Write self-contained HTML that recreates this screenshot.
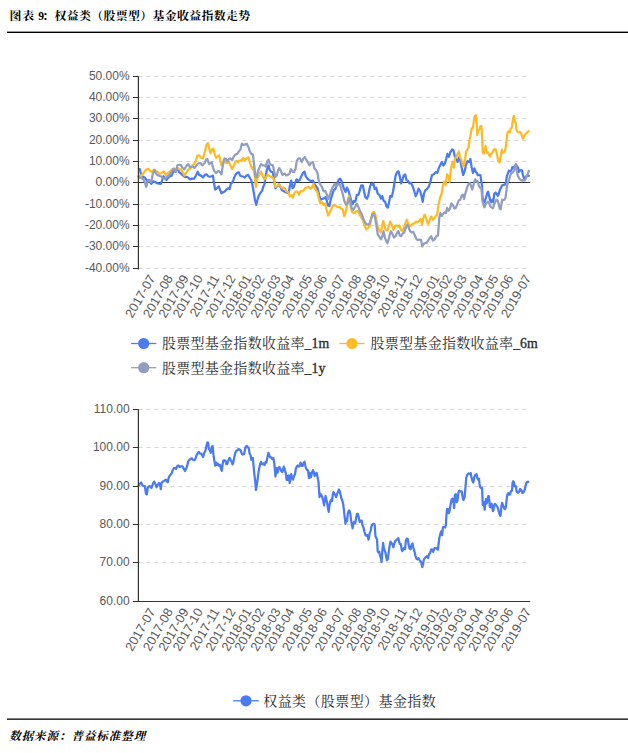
<!DOCTYPE html>
<html><head><meta charset="utf-8"><title>chart</title>
<style>html,body{margin:0;padding:0;background:#fff}svg{display:block;font-family:"Liberation Sans",sans-serif}</style>
</head><body>
<svg width="628" height="753" viewBox="0 0 628 753">
<rect width="628" height="753" fill="#fff"/>
<text x="9.5" y="19.7" font-family="'Liberation Serif','Noto Serif CJK SC',serif" font-weight="bold" font-size="11.9" fill="#000" textLength="24.6" lengthAdjust="spacing">图表</text>
<text x="42.2" y="19.7" font-family="'Liberation Serif','Noto Serif CJK SC',serif" font-weight="bold" font-size="11.9" fill="#000" textLength="208" lengthAdjust="spacing">：权益类（股票型）基金收益指数走势</text>
<text x="38.3" y="20.099999999999998" font-family="Liberation Serif" font-weight="bold" font-size="11.6" fill="#000">9</text>
<rect x="7" y="31.6" width="621" height="1.4" fill="#000"/>
<rect x="7" y="718.5" width="621" height="1.3" fill="#000"/>
<text x="9.2" y="740.3" font-family="'Liberation Serif','Noto Serif CJK SC',serif" font-weight="bold" font-style="italic" font-size="11.5" fill="#000" textLength="136" lengthAdjust="spacing">数据来源：普益标准整理</text>
<line x1="138.4" y1="76.5" x2="527.2" y2="76.5" stroke="#d6d6d6" stroke-width="1" stroke-dasharray="4 4"/>
<line x1="132.9" y1="76.5" x2="138.4" y2="76.5" stroke="#333" stroke-width="1"/>
<text x="129.6" y="79.7" text-anchor="end" font-size="12" fill="#595959">50.00%</text>
<line x1="138.4" y1="97.5" x2="527.2" y2="97.5" stroke="#d6d6d6" stroke-width="1" stroke-dasharray="4 4"/>
<line x1="132.9" y1="97.5" x2="138.4" y2="97.5" stroke="#333" stroke-width="1"/>
<text x="129.6" y="100.7" text-anchor="end" font-size="12" fill="#595959">40.00%</text>
<line x1="138.4" y1="118.5" x2="527.2" y2="118.5" stroke="#d6d6d6" stroke-width="1" stroke-dasharray="4 4"/>
<line x1="132.9" y1="118.5" x2="138.4" y2="118.5" stroke="#333" stroke-width="1"/>
<text x="129.6" y="121.7" text-anchor="end" font-size="12" fill="#595959">30.00%</text>
<line x1="138.4" y1="140.5" x2="527.2" y2="140.5" stroke="#d6d6d6" stroke-width="1" stroke-dasharray="4 4"/>
<line x1="132.9" y1="140.5" x2="138.4" y2="140.5" stroke="#333" stroke-width="1"/>
<text x="129.6" y="143.7" text-anchor="end" font-size="12" fill="#595959">20.00%</text>
<line x1="138.4" y1="161.5" x2="527.2" y2="161.5" stroke="#d6d6d6" stroke-width="1" stroke-dasharray="4 4"/>
<line x1="132.9" y1="161.5" x2="138.4" y2="161.5" stroke="#333" stroke-width="1"/>
<text x="129.6" y="164.7" text-anchor="end" font-size="12" fill="#595959">10.00%</text>
<line x1="132.9" y1="182.5" x2="138.4" y2="182.5" stroke="#333" stroke-width="1"/>
<text x="129.6" y="185.7" text-anchor="end" font-size="12" fill="#595959">0.00%</text>
<line x1="138.4" y1="204.5" x2="527.2" y2="204.5" stroke="#d6d6d6" stroke-width="1" stroke-dasharray="4 4"/>
<line x1="132.9" y1="204.5" x2="138.4" y2="204.5" stroke="#333" stroke-width="1"/>
<text x="129.6" y="207.7" text-anchor="end" font-size="12" fill="#595959">-10.00%</text>
<line x1="138.4" y1="225.5" x2="527.2" y2="225.5" stroke="#d6d6d6" stroke-width="1" stroke-dasharray="4 4"/>
<line x1="132.9" y1="225.5" x2="138.4" y2="225.5" stroke="#333" stroke-width="1"/>
<text x="129.6" y="228.7" text-anchor="end" font-size="12" fill="#595959">-20.00%</text>
<line x1="138.4" y1="246.5" x2="527.2" y2="246.5" stroke="#d6d6d6" stroke-width="1" stroke-dasharray="4 4"/>
<line x1="132.9" y1="246.5" x2="138.4" y2="246.5" stroke="#333" stroke-width="1"/>
<text x="129.6" y="249.7" text-anchor="end" font-size="12" fill="#595959">-30.00%</text>
<line x1="138.4" y1="268.5" x2="527.2" y2="268.5" stroke="#d6d6d6" stroke-width="1" stroke-dasharray="4 4"/>
<line x1="132.9" y1="268.5" x2="138.4" y2="268.5" stroke="#333" stroke-width="1"/>
<text x="129.6" y="271.7" text-anchor="end" font-size="12" fill="#595959">-40.00%</text>
<line x1="138.4" y1="182.5" x2="530.2" y2="182.5" stroke="#333" stroke-width="1.2"/>
<path d="M138.3 169.8 L139.8 169.0 L141.1 174.9 L143.0 176.8 L144.9 177.5 L146.8 180.7 L148.1 180.0 L149.4 180.7 L151.3 183.9 L153.2 181.3 L155.1 181.9 L157.0 183.2 L158.9 183.6 L160.8 183.9 L162.1 180.7 L163.4 176.2 L164.7 177.5 L166.6 180.0 L167.8 178.1 L169.8 176.2 L171.7 175.6 L172.9 172.4 L174.2 169.8 L175.5 171.8 L176.8 168.6 L178.0 169.2 L179.3 172.4 L181.2 173.7 L182.5 174.9 L184.4 176.8 L186.3 176.8 L188.2 177.5 L190.1 179.4 L192.1 178.5 L194.0 178.8 L195.9 175.6 L197.8 171.8 L199.1 174.9 L201.0 175.6 L202.9 177.5 L204.8 174.9 L206.7 174.3 L208.0 176.2 L209.9 176.8 L211.7 176.2 L213.0 175.6 L213.9 182.6 L215.2 189.6 L216.8 188.3 L218.7 186.4 L220.0 189.6 L221.5 193.4 L223.2 192.1 L224.8 191.5 L226.4 189.6 L227.9 188.3 L229.6 189.0 L230.8 183.9 L232.8 181.9 L234.3 177.5 L235.9 174.3 L237.6 172.4 L238.9 172.4 L240.1 175.6 L241.7 176.2 L243.6 176.8 L244.8 177.5 L246.5 175.6 L248.0 174.9 L249.6 177.5 L251.2 180.0 L252.5 185.1 L253.8 192.8 L255.0 200.4 L256.3 204.9 L257.6 199.2 L258.9 195.3 L260.5 192.8 L262.1 190.9 L263.3 186.4 L264.6 183.9 L265.6 176.2 L266.9 169.8 L268.4 165.4 L269.7 169.8 L271.2 171.8 L272.9 172.4 L274.1 180.0 L275.4 188.3 L276.7 186.4 L278.0 185.8 L279.2 184.5 L280.5 187.0 L281.8 190.2 L283.2 190.8 L285.1 192.0 L287.0 192.7 L288.7 193.3 L289.9 185.7 L291.2 180.6 L292.5 188.2 L293.8 186.9 L295.0 183.1 L296.6 179.3 L298.1 181.2 L299.8 179.9 L301.4 176.1 L302.9 172.9 L304.5 171.7 L305.7 176.1 L307.4 178.7 L309.0 179.9 L310.8 181.2 L312.9 180.6 L314.4 183.8 L315.9 186.3 L317.6 188.2 L318.9 193.9 L320.5 199.7 L322.0 199.0 L323.9 198.4 L325.6 197.1 L326.9 201.0 L328.1 205.4 L329.4 206.1 L330.7 199.7 L332.2 194.6 L333.8 190.1 L335.4 188.8 L337.1 184.4 L338.6 179.9 L340.1 178.7 L341.4 180.6 L342.7 185.0 L344.3 189.5 L345.6 192.0 L346.9 187.6 L348.5 190.8 L350.1 196.5 L351.3 201.0 L352.6 204.1 L353.9 201.0 L355.4 201.6 L356.8 194.8 L358.4 194.8 L359.9 190.4 L361.2 185.3 L362.8 185.3 L364.1 191.7 L365.4 197.4 L367.0 198.7 L368.3 195.5 L369.6 188.5 L370.9 184.0 L372.4 184.7 L373.4 183.4 L374.7 189.1 L376.2 187.8 L377.7 193.6 L379.4 194.8 L381.0 198.7 L382.3 196.1 L383.6 200.6 L385.1 201.8 L386.4 206.3 L387.7 207.6 L388.9 203.1 L390.2 196.1 L391.8 196.8 L393.0 191.7 L394.3 184.0 L395.6 175.7 L397.2 171.9 L398.5 171.3 L399.8 176.4 L401.0 183.4 L402.3 180.8 L403.6 175.7 L405.2 174.5 L406.5 180.2 L408.1 180.8 L409.3 183.4 L410.9 182.7 L412.5 185.9 L414.2 191.0 L415.7 196.1 L417.2 192.9 L418.5 188.5 L420.1 191.0 L421.4 195.5 L422.7 201.8 L424.0 193.6 L425.2 190.4 L426.9 189.1 L429.1 186.0 L430.6 180.9 L432.0 175.0 L433.9 174.3 L435.7 172.1 L437.4 172.8 L438.9 167.7 L440.4 164.8 L441.8 161.9 L443.3 165.6 L444.7 164.1 L446.2 159.0 L447.4 153.9 L448.8 156.8 L450.3 152.4 L452.0 149.5 L453.5 150.2 L454.7 156.1 L456.1 159.0 L457.6 161.9 L459.0 157.5 L460.5 161.2 L461.7 167.7 L463.1 175.0 L464.6 171.4 L466.0 164.8 L467.5 161.2 L469.0 161.9 L470.4 159.0 L471.6 167.0 L472.9 172.8 L474.4 168.5 L475.8 172.1 L476.9 172.9 L477.8 175.3 L479.2 174.8 L480.5 175.3 L481.2 180.6 L482.1 186.8 L482.4 194.9 L483.1 201.6 L484.5 202.1 L485.9 197.8 L487.2 193.0 L488.1 191.6 L489.1 195.9 L490.1 200.2 L491.2 202.1 L492.3 199.7 L493.3 202.1 L494.2 193.9 L495.5 192.5 L496.7 193.9 L497.9 195.9 L499.0 193.0 L500.0 189.7 L501.2 187.3 L502.2 185.3 L503.6 184.9 L505.1 184.4 L506.0 181.5 L507.0 175.8 L507.9 173.4 L508.9 170.5 L510.1 171.5 L511.3 170.5 L512.4 167.2 L513.6 167.7 L514.9 165.8 L516.0 164.3 L517.2 166.7 L518.1 167.7 L518.9 172.0 L519.9 170.5 L521.0 170.1 L522.0 170.5 L522.9 174.8 L523.9 178.2 L525.1 177.7 L526.4 176.3 L527.5 175.3 L528.6 175.8 L529.7 176.3" fill="none" stroke="#4a7bf0" stroke-width="2.25" stroke-linejoin="round" stroke-linecap="butt"/>
<path d="M138.3 175.6 L140.5 175.6 L142.4 174.9 L144.3 171.8 L146.2 169.8 L148.1 168.6 L150.0 170.5 L151.9 172.4 L153.8 169.8 L155.8 171.1 L157.7 172.1 L159.6 173.7 L161.5 173.0 L163.4 171.4 L164.7 172.4 L165.9 174.9 L167.8 173.0 L169.8 171.8 L171.7 169.8 L173.6 168.6 L175.5 169.2 L177.4 167.9 L179.3 169.2 L181.2 169.8 L182.5 171.8 L184.4 175.6 L186.3 172.4 L188.2 169.8 L190.1 168.6 L192.1 165.4 L194.0 164.1 L195.9 160.9 L197.2 155.8 L199.1 155.2 L201.0 157.8 L202.9 158.4 L204.8 152.0 L206.7 144.4 L208.0 143.1 L209.2 148.2 L210.5 153.3 L212.1 149.5 L213.4 148.8 L214.7 154.6 L216.2 157.8 L217.7 156.5 L219.0 155.2 L220.3 160.3 L221.5 165.4 L222.8 162.2 L224.1 160.3 L225.8 162.8 L227.4 162.8 L228.9 161.6 L230.5 165.4 L232.1 169.2 L233.8 165.4 L235.3 161.6 L236.6 160.9 L238.1 162.2 L239.8 160.3 L241.4 160.9 L243.2 157.8 L244.8 160.3 L246.5 158.4 L248.3 157.1 L249.6 161.6 L250.8 165.4 L252.1 168.6 L253.4 167.3 L254.7 176.2 L255.9 187.0 L257.2 178.8 L258.5 176.2 L259.8 173.7 L261.0 171.8 L262.7 175.6 L264.3 179.4 L265.9 177.5 L267.4 174.9 L269.1 175.6 L271.0 176.8 L272.5 177.5 L274.1 179.4 L275.4 187.0 L277.1 185.8 L278.9 184.5 L280.5 186.4 L282.2 188.3 L283.2 187.6 L284.8 188.2 L286.4 191.4 L288.3 192.0 L289.9 196.5 L291.5 195.2 L292.7 197.8 L294.3 193.3 L295.9 191.4 L297.6 192.0 L299.1 194.6 L300.6 190.8 L302.3 191.4 L303.9 190.1 L305.5 187.6 L307.0 187.6 L308.7 186.9 L310.3 188.8 L311.9 187.6 L313.4 183.8 L314.6 188.2 L315.9 190.1 L317.6 192.7 L318.9 199.0 L320.5 203.5 L322.0 202.2 L323.6 204.8 L325.2 203.5 L326.5 209.2 L328.1 215.6 L329.7 212.4 L331.2 209.2 L332.9 206.1 L334.5 204.8 L336.1 206.1 L338.0 207.3 L339.6 206.7 L341.1 208.6 L342.7 209.2 L344.3 216.2 L345.6 212.4 L346.9 206.1 L347.8 199.7 L349.0 195.9 L350.3 204.8 L352.0 211.8 L353.6 213.1 L355.2 212.4 L356.8 210.8 L358.4 212.0 L359.9 215.2 L361.6 217.8 L363.2 221.0 L364.7 226.1 L366.3 229.2 L367.9 228.0 L369.6 226.7 L371.1 218.4 L372.6 212.7 L373.9 212.0 L375.2 213.9 L376.5 221.0 L377.7 226.7 L379.0 229.9 L380.7 232.4 L381.9 227.3 L383.2 221.0 L384.5 226.1 L385.8 229.9 L387.4 230.5 L388.9 226.7 L390.2 221.6 L391.8 224.8 L393.4 229.9 L395.1 226.1 L396.6 225.4 L398.1 226.7 L399.4 225.4 L401.0 229.9 L402.3 231.2 L404.0 228.0 L405.5 222.9 L406.8 219.7 L408.1 223.5 L409.6 226.1 L411.2 225.4 L412.9 223.5 L414.4 223.5 L415.9 221.6 L417.6 222.2 L419.3 221.0 L420.8 219.0 L422.1 224.8 L423.3 217.8 L424.6 214.6 L426.1 218.4 L427.8 223.5 L428.4 223.9 L429.8 219.6 L431.3 216.6 L432.8 219.6 L434.2 218.8 L435.7 215.9 L437.1 214.4 L438.6 204.2 L440.1 197.7 L441.5 194.0 L442.7 186.7 L444.1 181.6 L445.6 185.3 L447.1 174.3 L448.5 176.5 L449.6 181.6 L451.0 168.5 L452.5 161.9 L453.9 167.7 L454.9 159.0 L456.6 156.0 L457.8 153.4 L458.8 151.5 L460.1 157.2 L461.4 159.8 L462.7 164.9 L463.9 166.2 L465.2 158.5 L466.1 151.5 L467.4 149.6 L468.6 147.0 L469.5 140.0 L470.6 135.6 L471.6 128.6 L472.9 127.9 L473.8 121.6 L474.6 116.5 L475.9 115.2 L476.7 124.1 L477.2 134.9 L478.2 130.5 L479.2 129.8 L480.1 126.7 L481.4 126.0 L482.0 134.3 L482.7 152.8 L483.9 153.4 L484.8 148.9 L485.6 145.8 L486.5 152.8 L487.8 152.1 L488.6 154.0 L489.9 156.6 L490.9 154.0 L492.2 152.8 L493.5 150.2 L494.8 148.9 L495.8 149.6 L497.1 154.7 L498.3 161.1 L499.6 162.3 L500.9 155.3 L501.8 149.6 L503.0 152.8 L504.3 152.1 L505.6 148.3 L506.5 140.7 L507.5 132.4 L508.5 131.1 L509.8 132.4 L510.7 128.6 L512.0 127.3 L512.9 119.0 L513.9 115.8 L514.9 121.6 L515.8 122.8 L516.4 129.8 L517.4 131.8 L518.7 132.4 L520.0 131.8 L521.3 133.7 L522.1 136.8 L523.0 138.8 L524.1 136.2 L525.3 134.3 L526.6 133.0 L527.9 131.8 L529.2 130.5" fill="none" stroke="#fcbb26" stroke-width="2.25" stroke-linejoin="round" stroke-linecap="butt"/>
<path d="M137.9 175.6 L139.2 177.5 L141.1 178.1 L143.0 178.8 L144.9 182.6 L146.2 187.0 L147.5 181.9 L149.4 180.0 L151.3 181.9 L152.6 174.9 L154.5 169.8 L155.8 173.0 L157.0 174.9 L158.9 175.6 L160.8 176.2 L162.8 178.1 L164.7 178.8 L166.6 177.5 L168.5 175.6 L170.4 173.7 L172.3 170.5 L173.6 168.6 L174.8 170.5 L176.1 171.8 L177.4 165.4 L179.3 164.8 L181.2 165.4 L182.5 167.9 L184.4 169.2 L186.3 166.0 L188.2 164.1 L189.5 166.7 L191.4 167.3 L192.7 166.7 L194.6 167.9 L196.5 165.4 L198.4 163.5 L200.3 162.8 L202.2 165.4 L204.2 163.5 L206.1 159.7 L207.3 159.0 L209.2 164.1 L211.7 162.2 L213.0 167.3 L214.3 171.1 L215.9 173.0 L217.5 171.8 L219.0 171.1 L220.3 172.4 L221.5 174.3 L222.8 165.4 L224.5 158.4 L226.1 159.0 L227.4 161.6 L228.9 159.0 L230.5 158.4 L232.1 160.3 L233.8 156.5 L235.3 154.6 L237.2 153.9 L238.9 151.4 L240.4 149.5 L241.9 143.7 L243.6 145.0 L245.2 144.4 L246.8 143.7 L248.3 146.9 L249.9 151.4 L251.2 153.9 L252.9 154.6 L254.2 165.4 L255.4 176.2 L256.7 177.5 L258.2 170.5 L259.8 166.7 L261.0 164.1 L262.7 165.4 L264.3 165.4 L265.9 166.7 L267.1 161.6 L268.4 159.7 L269.7 163.5 L271.2 164.8 L272.9 165.4 L274.1 171.1 L275.4 176.8 L276.7 175.6 L278.0 170.5 L279.2 167.9 L280.9 171.1 L282.4 174.9 L283.2 174.2 L284.8 173.6 L286.4 175.5 L287.9 174.8 L289.6 173.6 L290.8 169.1 L292.5 171.7 L294.0 172.3 L295.5 169.1 L296.8 160.8 L298.5 158.3 L300.1 158.3 L301.7 162.1 L303.2 158.9 L304.8 157.0 L306.5 160.2 L308.0 162.7 L309.6 165.3 L311.2 162.7 L312.9 162.1 L314.4 168.5 L315.9 169.8 L317.6 173.6 L318.9 181.8 L320.5 185.0 L322.0 186.9 L323.6 191.4 L325.2 190.8 L326.9 194.6 L328.4 199.0 L329.9 194.6 L331.6 189.5 L333.2 186.3 L334.8 183.8 L336.3 186.3 L338.0 184.4 L339.6 183.8 L341.1 188.2 L342.7 193.9 L344.3 201.0 L346.0 204.8 L347.5 203.5 L349.0 198.4 L350.3 201.0 L351.6 208.0 L353.2 209.9 L354.9 207.3 L356.8 203.8 L358.4 206.9 L359.9 210.8 L361.6 213.9 L363.2 218.4 L364.7 221.6 L366.3 224.1 L367.9 224.8 L369.6 223.5 L371.1 219.0 L372.4 214.6 L373.9 213.9 L375.2 218.4 L376.5 226.1 L377.7 234.3 L379.4 236.9 L381.0 239.4 L382.3 236.2 L383.6 231.2 L384.9 237.5 L386.1 240.7 L387.4 243.2 L388.7 239.4 L390.0 233.7 L390.9 231.2 L392.5 234.3 L394.0 237.5 L395.6 236.2 L397.2 232.4 L398.5 231.2 L399.8 235.6 L401.0 236.2 L402.7 233.7 L404.2 232.4 L405.8 228.0 L407.4 224.8 L408.7 227.3 L410.0 231.2 L411.6 232.4 L413.1 231.8 L414.7 235.0 L416.3 238.8 L418.0 240.1 L419.5 239.4 L421.0 240.1 L422.3 246.4 L423.6 243.9 L425.2 243.2 L426.9 242.6 L428.4 240.0 L429.8 237.8 L431.3 236.3 L432.8 240.7 L434.5 239.3 L436.4 236.3 L437.9 235.6 L438.6 227.6 L439.3 217.4 L440.4 213.0 L441.8 215.9 L443.3 213.7 L444.7 212.3 L445.9 213.0 L447.1 207.9 L448.5 210.8 L450.0 208.6 L451.4 203.5 L452.9 205.0 L454.4 208.6 L455.8 207.9 L457.3 204.2 L458.7 200.6 L460.2 199.8 L461.7 195.5 L463.1 194.7 L464.1 199.1 L465.6 192.6 L467.1 187.4 L468.5 183.8 L470.0 183.1 L471.0 186.0 L472.2 189.6 L473.6 184.5 L475.1 179.4 L476.4 181.5 L477.6 181.1 L478.8 185.8 L479.9 187.7 L481.2 187.3 L481.8 193.0 L482.4 200.6 L483.4 204.5 L484.5 207.3 L485.7 204.0 L486.9 202.6 L488.1 201.6 L489.3 203.5 L490.4 206.4 L491.7 207.3 L492.9 208.3 L494.1 204.5 L495.2 202.1 L496.4 199.7 L497.7 200.6 L498.6 203.5 L499.6 208.3 L500.6 209.2 L501.5 203.5 L502.2 199.7 L503.1 200.2 L504.4 199.7 L505.5 197.8 L506.3 192.0 L507.0 186.3 L507.9 182.5 L508.9 180.6 L509.8 177.2 L510.8 173.9 L511.7 172.9 L513.0 172.4 L514.1 170.5 L515.1 166.7 L516.0 165.3 L516.8 171.0 L517.8 175.8 L518.9 177.7 L519.9 179.6 L521.0 180.1 L522.2 180.6 L523.5 180.1 L524.6 180.6 L525.8 178.7 L526.7 176.3 L527.7 173.9 L528.6 171.5 L529.4 170.2" fill="none" stroke="#919ec1" stroke-width="2.25" stroke-linejoin="round" stroke-linecap="butt"/>
<line x1="138.4" y1="76.3" x2="138.4" y2="269.5" stroke="#333" stroke-width="1.2"/>
<text transform="translate(155.8 278.0) rotate(-60)" text-anchor="end" font-size="12.8" fill="#595959">2017-07</text>
<text transform="translate(173.4 278.0) rotate(-60)" text-anchor="end" font-size="12.8" fill="#595959">2017-08</text>
<text transform="translate(189.0 278.0) rotate(-60)" text-anchor="end" font-size="12.8" fill="#595959">2017-09</text>
<text transform="translate(203.2 278.0) rotate(-60)" text-anchor="end" font-size="12.8" fill="#595959">2017-10</text>
<text transform="translate(219.8 278.0) rotate(-60)" text-anchor="end" font-size="12.8" fill="#595959">2017-11</text>
<text transform="translate(236.0 278.0) rotate(-60)" text-anchor="end" font-size="12.8" fill="#595959">2017-12</text>
<text transform="translate(252.1 278.0) rotate(-60)" text-anchor="end" font-size="12.8" fill="#595959">2018-01</text>
<text transform="translate(265.0 278.0) rotate(-60)" text-anchor="end" font-size="12.8" fill="#595959">2018-02</text>
<text transform="translate(281.0 278.0) rotate(-60)" text-anchor="end" font-size="12.8" fill="#595959">2018-03</text>
<text transform="translate(294.9 278.0) rotate(-60)" text-anchor="end" font-size="12.8" fill="#595959">2018-04</text>
<text transform="translate(312.5 278.0) rotate(-60)" text-anchor="end" font-size="12.8" fill="#595959">2018-05</text>
<text transform="translate(327.5 278.0) rotate(-60)" text-anchor="end" font-size="12.8" fill="#595959">2018-06</text>
<text transform="translate(345.3 278.0) rotate(-60)" text-anchor="end" font-size="12.8" fill="#595959">2018-07</text>
<text transform="translate(361.8 278.0) rotate(-60)" text-anchor="end" font-size="12.8" fill="#595959">2018-08</text>
<text transform="translate(376.7 278.0) rotate(-60)" text-anchor="end" font-size="12.8" fill="#595959">2018-09</text>
<text transform="translate(390.2 278.0) rotate(-60)" text-anchor="end" font-size="12.8" fill="#595959">2018-10</text>
<text transform="translate(407.4 278.0) rotate(-60)" text-anchor="end" font-size="12.8" fill="#595959">2018-11</text>
<text transform="translate(422.9 278.0) rotate(-60)" text-anchor="end" font-size="12.8" fill="#595959">2018-12</text>
<text transform="translate(440.1 278.0) rotate(-60)" text-anchor="end" font-size="12.8" fill="#595959">2019-01</text>
<text transform="translate(452.5 278.0) rotate(-60)" text-anchor="end" font-size="12.8" fill="#595959">2019-02</text>
<text transform="translate(467.4 278.0) rotate(-60)" text-anchor="end" font-size="12.8" fill="#595959">2019-03</text>
<text transform="translate(483.7 278.0) rotate(-60)" text-anchor="end" font-size="12.8" fill="#595959">2019-04</text>
<text transform="translate(498.8 278.0) rotate(-60)" text-anchor="end" font-size="12.8" fill="#595959">2019-05</text>
<text transform="translate(513.8 278.0) rotate(-60)" text-anchor="end" font-size="12.8" fill="#595959">2019-06</text>
<text transform="translate(531.6 278.0) rotate(-60)" text-anchor="end" font-size="12.8" fill="#595959">2019-07</text>
<line x1="138.4" y1="409.5" x2="527.2" y2="409.5" stroke="#d6d6d6" stroke-width="1" stroke-dasharray="4 4"/>
<line x1="132.9" y1="409.5" x2="138.4" y2="409.5" stroke="#333" stroke-width="1"/>
<text x="129.6" y="412.7" text-anchor="end" font-size="12" fill="#595959">110.00</text>
<line x1="138.4" y1="447.5" x2="527.2" y2="447.5" stroke="#d6d6d6" stroke-width="1" stroke-dasharray="4 4"/>
<line x1="132.9" y1="447.5" x2="138.4" y2="447.5" stroke="#333" stroke-width="1"/>
<text x="129.6" y="450.7" text-anchor="end" font-size="12" fill="#595959">100.00</text>
<line x1="138.4" y1="486.5" x2="527.2" y2="486.5" stroke="#d6d6d6" stroke-width="1" stroke-dasharray="4 4"/>
<line x1="132.9" y1="486.5" x2="138.4" y2="486.5" stroke="#333" stroke-width="1"/>
<text x="129.6" y="489.7" text-anchor="end" font-size="12" fill="#595959">90.00</text>
<line x1="138.4" y1="524.5" x2="527.2" y2="524.5" stroke="#d6d6d6" stroke-width="1" stroke-dasharray="4 4"/>
<line x1="132.9" y1="524.5" x2="138.4" y2="524.5" stroke="#333" stroke-width="1"/>
<text x="129.6" y="527.7" text-anchor="end" font-size="12" fill="#595959">80.00</text>
<line x1="138.4" y1="562.5" x2="527.2" y2="562.5" stroke="#d6d6d6" stroke-width="1" stroke-dasharray="4 4"/>
<line x1="132.9" y1="562.5" x2="138.4" y2="562.5" stroke="#333" stroke-width="1"/>
<text x="129.6" y="565.7" text-anchor="end" font-size="12" fill="#595959">70.00</text>
<line x1="132.9" y1="601.5" x2="138.4" y2="601.5" stroke="#333" stroke-width="1"/>
<text x="129.6" y="604.7" text-anchor="end" font-size="12" fill="#595959">60.00</text>
<path d="M138.3 486.1 L139.6 484.1 L141.1 482.5 L142.4 485.4 L143.6 486.1 L144.9 486.1 L145.9 493.7 L146.8 494.3 L147.7 488.0 L149.4 486.1 L150.7 486.7 L151.5 488.0 L152.8 484.1 L154.1 481.6 L155.4 484.1 L156.6 487.3 L157.9 484.8 L158.9 482.9 L159.9 484.1 L160.8 489.2 L161.5 482.9 L162.8 481.6 L164.3 480.7 L165.9 479.7 L167.2 481.6 L167.8 482.2 L168.9 477.1 L170.1 475.2 L171.4 473.9 L172.7 470.1 L174.0 468.0 L175.2 468.2 L176.1 468.9 L177.0 466.3 L178.3 465.4 L179.6 466.9 L180.8 466.3 L182.5 466.3 L183.8 468.9 L185.0 471.0 L186.3 468.2 L187.2 465.7 L188.2 461.2 L189.5 459.9 L190.8 458.7 L191.8 458.3 L193.1 459.9 L194.3 460.3 L195.2 459.3 L196.5 455.5 L197.8 452.9 L198.7 451.9 L199.9 453.6 L201.2 453.6 L202.2 455.5 L203.1 457.0 L204.2 452.9 L205.4 451.0 L206.3 446.6 L207.3 442.5 L208.1 442.7 L208.9 449.1 L209.9 450.4 L210.7 452.9 L211.7 447.2 L212.6 445.9 L213.4 454.2 L214.3 460.6 L215.2 465.7 L216.2 462.5 L217.2 465.0 L218.1 463.8 L219.0 465.7 L220.0 465.0 L221.0 468.9 L221.8 470.8 L222.6 464.4 L223.3 460.6 L224.5 460.3 L225.4 460.6 L226.4 464.1 L227.4 463.8 L228.3 460.6 L229.6 457.8 L230.5 459.9 L231.5 461.2 L232.5 464.4 L233.4 461.9 L234.3 457.4 L235.3 452.9 L236.3 450.6 L237.6 450.4 L238.6 448.9 L239.8 449.8 L240.7 450.4 L241.7 453.6 L242.9 454.5 L244.0 454.2 L244.8 450.4 L245.8 446.6 L246.8 445.9 L247.8 447.2 L248.7 447.8 L249.6 453.6 L250.6 455.5 L251.3 459.9 L252.1 458.7 L252.9 458.0 L253.6 466.3 L254.4 474.6 L255.2 481.0 L255.9 489.9 L256.7 486.1 L257.5 480.3 L258.2 474.6 L259.2 468.2 L260.1 464.4 L261.0 461.9 L261.8 463.8 L262.7 464.4 L263.6 463.4 L264.6 465.0 L265.6 461.9 L266.5 462.5 L267.4 457.4 L268.4 452.9 L269.4 455.5 L270.3 457.4 L271.2 457.4 L272.2 459.0 L273.3 458.0 L274.1 461.9 L274.8 468.2 L275.4 476.5 L276.1 472.0 L276.8 468.2 L277.6 472.7 L278.4 468.2 L279.4 466.9 L280.4 468.9 L281.4 471.4 L282.4 472.0 L283.8 466.6 L284.8 469.8 L285.9 473.6 L286.6 479.9 L287.4 476.1 L288.1 479.9 L288.9 475.5 L289.7 483.1 L290.4 479.9 L291.2 474.2 L292.1 477.4 L293.0 479.6 L294.0 476.1 L295.0 474.2 L295.9 468.5 L296.8 466.6 L297.8 465.5 L298.9 466.6 L299.8 465.3 L300.6 462.7 L301.7 465.9 L302.7 465.9 L303.6 462.7 L304.5 461.7 L305.2 465.3 L306.1 468.5 L307.0 469.8 L308.0 470.4 L309.0 478.0 L309.9 472.9 L310.8 477.4 L311.9 472.9 L312.9 470.1 L313.8 471.7 L314.6 476.1 L315.7 473.6 L316.7 472.9 L317.6 477.4 L318.5 481.9 L319.0 489.5 L319.5 497.1 L320.5 493.9 L321.4 495.2 L322.3 497.1 L323.3 501.0 L324.1 505.4 L324.8 500.3 L325.6 495.9 L326.4 499.7 L327.1 502.2 L327.9 508.0 L328.7 511.8 L329.4 506.1 L330.3 501.6 L331.2 499.7 L332.0 501.0 L332.7 495.2 L333.5 492.0 L334.5 493.9 L335.4 495.2 L336.1 497.1 L337.1 493.9 L338.0 492.0 L338.9 489.5 L339.6 490.8 L340.5 494.6 L341.4 498.4 L342.4 501.0 L343.2 504.1 L343.9 509.9 L344.7 517.5 L345.5 523.9 L346.2 518.8 L347.0 521.3 L347.8 513.7 L348.5 511.1 L349.4 510.5 L350.3 513.7 L351.1 520.1 L352.0 525.2 L352.6 528.3 L353.4 523.9 L354.1 522.0 L355.2 523.2 L356.8 514.2 L357.7 513.6 L358.6 516.8 L359.6 521.9 L360.7 520.6 L361.7 520.6 L362.4 525.0 L363.5 527.6 L364.5 532.0 L365.5 535.2 L366.5 535.9 L367.5 535.2 L368.6 539.7 L369.6 533.3 L370.6 530.8 L371.6 525.7 L372.6 524.1 L373.7 523.8 L374.7 524.4 L375.4 535.9 L376.2 537.8 L377.0 539.0 L377.7 551.1 L378.5 552.4 L379.3 551.8 L380.0 555.6 L380.8 557.5 L381.6 562.0 L382.3 551.1 L383.1 542.9 L383.9 548.0 L384.6 550.5 L385.4 552.4 L386.1 556.2 L386.9 560.1 L387.7 559.4 L388.7 552.4 L389.6 546.0 L390.5 541.6 L391.5 542.9 L392.5 544.8 L393.4 547.3 L394.3 543.5 L395.3 541.0 L396.3 540.3 L397.4 539.0 L398.4 538.1 L399.1 541.6 L399.9 544.1 L400.9 544.1 L401.7 549.9 L402.4 551.1 L403.2 549.2 L404.2 548.0 L405.0 549.2 L405.8 541.0 L406.8 538.7 L407.8 539.0 L408.6 544.8 L409.6 548.6 L410.6 549.2 L411.6 544.8 L412.5 543.5 L413.4 548.0 L414.4 551.1 L415.4 555.6 L416.5 558.8 L417.5 559.4 L418.5 558.1 L419.5 560.1 L420.5 561.3 L421.4 563.2 L422.3 567.1 L423.1 563.9 L423.9 559.4 L424.9 558.1 L425.9 556.9 L426.9 556.2 L427.8 557.5 L428.1 558.1 L429.1 554.0 L430.1 553.3 L431.0 549.7 L432.0 549.4 L433.1 551.9 L433.9 549.7 L434.9 547.9 L436.0 548.2 L436.9 548.9 L437.9 549.7 L438.6 543.8 L439.3 538.0 L440.4 533.6 L441.2 531.4 L442.1 535.1 L443.0 527.0 L444.1 527.0 L445.2 527.5 L445.9 524.9 L446.5 514.6 L447.1 508.8 L448.1 509.5 L448.8 513.2 L449.7 510.3 L450.6 504.4 L451.7 499.3 L452.6 498.6 L453.5 502.2 L454.1 508.1 L454.9 494.9 L455.8 494.2 L456.7 502.2 L457.6 500.0 L458.4 492.7 L459.3 490.6 L460.5 491.3 L461.7 491.3 L462.5 496.4 L463.4 500.0 L464.6 497.1 L465.5 486.9 L466.3 477.4 L467.5 474.5 L468.5 473.5 L469.6 474.1 L470.7 473.0 L471.6 478.1 L472.5 481.1 L473.3 482.5 L474.2 477.4 L475.1 475.2 L476.7 474.3 L477.3 478.1 L478.0 479.6 L479.0 478.6 L479.5 483.9 L480.2 487.2 L481.2 488.2 L482.1 487.7 L482.4 496.3 L482.8 504.9 L483.6 502.0 L484.1 505.9 L484.7 509.7 L485.3 503.9 L485.9 499.2 L486.6 503.5 L487.4 501.1 L488.1 496.3 L488.8 496.1 L489.3 500.1 L489.8 506.8 L490.4 503.5 L491.0 507.3 L491.7 503.9 L492.3 507.8 L492.9 511.1 L493.6 509.7 L494.1 505.9 L494.8 503.9 L495.6 504.4 L496.4 505.7 L497.4 506.8 L498.4 509.7 L499.0 512.5 L499.8 514.9 L500.4 515.9 L500.9 512.1 L501.5 505.9 L502.1 502.8 L502.9 504.9 L503.6 506.8 L504.4 508.7 L505.1 509.2 L505.9 506.8 L506.5 501.1 L507.1 495.8 L507.8 493.6 L508.6 493.2 L509.4 494.6 L510.1 494.4 L510.8 491.5 L511.4 490.8 L512.0 490.6 L512.6 482.4 L513.2 481.2 L513.9 482.4 L514.5 486.3 L515.3 485.8 L516.0 486.3 L516.6 491.5 L517.5 492.5 L518.4 492.5 L519.4 491.1 L520.0 489.1 L521.0 489.6 L521.8 491.1 L522.5 493.2 L523.3 492.5 L524.1 491.1 L524.8 489.6 L525.6 485.8 L526.4 482.9 L527.3 481.8 L528.3 481.8 L529.2 482.0" fill="none" stroke="#4a7bf0" stroke-width="2.25" stroke-linejoin="round" stroke-linecap="butt"/>
<line x1="137.8" y1="601.5" x2="530.2" y2="601.5" stroke="#333" stroke-width="1.2"/>
<line x1="138.4" y1="409.3" x2="138.4" y2="602.1" stroke="#333" stroke-width="1.2"/>
<text transform="translate(155.8 611.3) rotate(-60)" text-anchor="end" font-size="12.8" fill="#595959">2017-07</text>
<text transform="translate(173.4 611.3) rotate(-60)" text-anchor="end" font-size="12.8" fill="#595959">2017-08</text>
<text transform="translate(189.0 611.3) rotate(-60)" text-anchor="end" font-size="12.8" fill="#595959">2017-09</text>
<text transform="translate(203.2 611.3) rotate(-60)" text-anchor="end" font-size="12.8" fill="#595959">2017-10</text>
<text transform="translate(219.8 611.3) rotate(-60)" text-anchor="end" font-size="12.8" fill="#595959">2017-11</text>
<text transform="translate(236.0 611.3) rotate(-60)" text-anchor="end" font-size="12.8" fill="#595959">2017-12</text>
<text transform="translate(252.1 611.3) rotate(-60)" text-anchor="end" font-size="12.8" fill="#595959">2018-01</text>
<text transform="translate(265.0 611.3) rotate(-60)" text-anchor="end" font-size="12.8" fill="#595959">2018-02</text>
<text transform="translate(281.0 611.3) rotate(-60)" text-anchor="end" font-size="12.8" fill="#595959">2018-03</text>
<text transform="translate(294.9 611.3) rotate(-60)" text-anchor="end" font-size="12.8" fill="#595959">2018-04</text>
<text transform="translate(312.5 611.3) rotate(-60)" text-anchor="end" font-size="12.8" fill="#595959">2018-05</text>
<text transform="translate(327.5 611.3) rotate(-60)" text-anchor="end" font-size="12.8" fill="#595959">2018-06</text>
<text transform="translate(345.3 611.3) rotate(-60)" text-anchor="end" font-size="12.8" fill="#595959">2018-07</text>
<text transform="translate(361.8 611.3) rotate(-60)" text-anchor="end" font-size="12.8" fill="#595959">2018-08</text>
<text transform="translate(376.7 611.3) rotate(-60)" text-anchor="end" font-size="12.8" fill="#595959">2018-09</text>
<text transform="translate(390.2 611.3) rotate(-60)" text-anchor="end" font-size="12.8" fill="#595959">2018-10</text>
<text transform="translate(407.4 611.3) rotate(-60)" text-anchor="end" font-size="12.8" fill="#595959">2018-11</text>
<text transform="translate(422.9 611.3) rotate(-60)" text-anchor="end" font-size="12.8" fill="#595959">2018-12</text>
<text transform="translate(440.1 611.3) rotate(-60)" text-anchor="end" font-size="12.8" fill="#595959">2019-01</text>
<text transform="translate(452.5 611.3) rotate(-60)" text-anchor="end" font-size="12.8" fill="#595959">2019-02</text>
<text transform="translate(467.4 611.3) rotate(-60)" text-anchor="end" font-size="12.8" fill="#595959">2019-03</text>
<text transform="translate(483.7 611.3) rotate(-60)" text-anchor="end" font-size="12.8" fill="#595959">2019-04</text>
<text transform="translate(498.8 611.3) rotate(-60)" text-anchor="end" font-size="12.8" fill="#595959">2019-05</text>
<text transform="translate(513.8 611.3) rotate(-60)" text-anchor="end" font-size="12.8" fill="#595959">2019-06</text>
<text transform="translate(531.6 611.3) rotate(-60)" text-anchor="end" font-size="12.8" fill="#595959">2019-07</text>
<line x1="131.1" y1="343.5" x2="156.29999999999998" y2="343.5" stroke="#4a7bf0" stroke-width="1.3"/>
<circle cx="143.7" cy="343.5" r="5.6" fill="#4a7bf0"/>
<text x="161.9" y="348.4" font-family="'Liberation Serif','Noto Serif CJK SC',serif" font-size="14" fill="#2a2a2a" textLength="142.6" lengthAdjust="spacing">股票型基金指数收益率</text>
<text x="304.6" y="348.4" font-family="Liberation Serif" font-size="13.8" fill="#2a2a2a" stroke="#2a2a2a" stroke-width="0.3">_1m</text>
<line x1="339.4" y1="343.5" x2="364.6" y2="343.5" stroke="#fcbb26" stroke-width="1.3"/>
<circle cx="352.0" cy="343.5" r="5.6" fill="#fcbb26"/>
<text x="370.5" y="348.4" font-family="'Liberation Serif','Noto Serif CJK SC',serif" font-size="14" fill="#2a2a2a" textLength="142.6" lengthAdjust="spacing">股票型基金指数收益率</text>
<text x="513.2" y="348.4" font-family="Liberation Serif" font-size="13.8" fill="#2a2a2a" stroke="#2a2a2a" stroke-width="0.3">_6m</text>
<line x1="131.1" y1="367.7" x2="156.29999999999998" y2="367.7" stroke="#919ec1" stroke-width="1.3"/>
<circle cx="143.7" cy="367.7" r="5.6" fill="#919ec1"/>
<text x="161.9" y="372.6" font-family="'Liberation Serif','Noto Serif CJK SC',serif" font-size="14" fill="#2a2a2a" textLength="142.6" lengthAdjust="spacing">股票型基金指数收益率</text>
<text x="304.6" y="372.6" font-family="Liberation Serif" font-size="13.8" fill="#2a2a2a" stroke="#2a2a2a" stroke-width="0.3">_1y</text>
<line x1="233.2" y1="700.8" x2="258.8" y2="700.8" stroke="#4a7bf0" stroke-width="1.3"/>
<circle cx="246" cy="700.8" r="5.6" fill="#4a7bf0"/>
<text x="263.3" y="705.7" font-family="'Liberation Serif','Noto Serif CJK SC',serif" font-size="14" fill="#2a2a2a" textLength="172.4" lengthAdjust="spacing">权益类（股票型）基金指数</text>
</svg>
</body></html>
